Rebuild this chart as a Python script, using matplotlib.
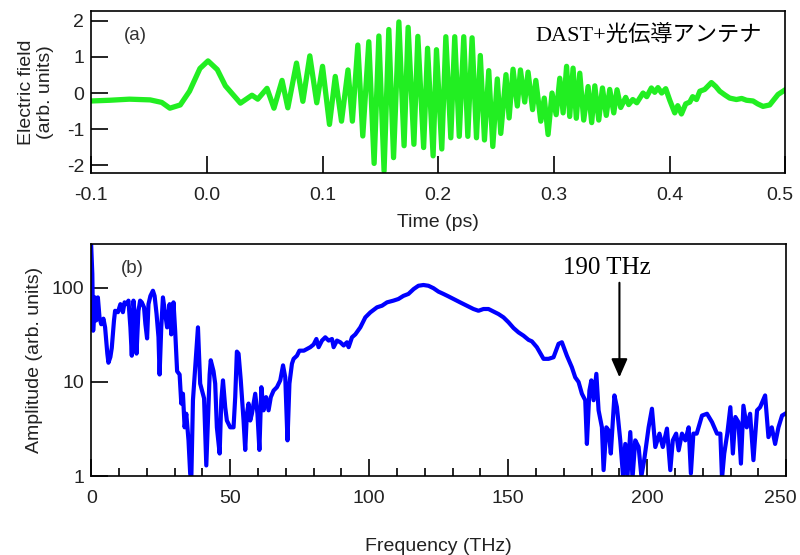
import matplotlib
matplotlib.use("Agg")
import matplotlib.pyplot as plt
import matplotlib.transforms as mtransforms
from matplotlib.ticker import FixedLocator, MultipleLocator, NullLocator

plt.rcParams['font.family'] = ['Liberation Sans', 'DejaVu Sans']
plt.rcParams['axes.unicode_minus'] = False

# (a) time-domain waveform
t_ps = [
    -0.100, -0.084, -0.067, -0.049, -0.039, -0.032, -0.023, -0.015, -0.006, 0.001,
    0.009, 0.016, 0.022, 0.029, 0.039, 0.044, 0.052, 0.058, 0.065, 0.070,
    0.0775, 0.083, 0.089, 0.095, 0.100, 0.106, 0.111, 0.1164, 0.122, 0.1258,
    0.1305, 0.1348, 0.140, 0.1446, 0.1487, 0.1532, 0.1573, 0.1614, 0.166, 0.1705,
    0.174, 0.179, 0.1824, 0.1874, 0.1908, 0.1956, 0.1985, 0.2031, 0.2066, 0.2109,
    0.2143, 0.2182, 0.2221, 0.2256, 0.2293, 0.2331, 0.2364, 0.240, 0.2437, 0.2472,
    0.2511, 0.2541, 0.2586, 0.2613, 0.2647, 0.2684, 0.2711, 0.2748, 0.2777, 0.2816,
    0.2844, 0.2887, 0.2917, 0.295, 0.2984, 0.302, 0.3051, 0.308, 0.311, 0.3137,
    0.3166, 0.3194, 0.3224, 0.3258, 0.3296, 0.3327, 0.3354, 0.3388, 0.342, 0.3453,
    0.3483, 0.3518, 0.3546, 0.3578, 0.3621, 0.3647, 0.3682, 0.3717, 0.3771, 0.3803,
    0.3843, 0.3872, 0.390, 0.3932, 0.3967, 0.4002, 0.4045, 0.4071, 0.4103, 0.414,
    0.4175, 0.420, 0.4233, 0.4262, 0.4304, 0.4362, 0.440, 0.4434, 0.4477, 0.452,
    0.4578, 0.4624, 0.4665, 0.4722, 0.4762, 0.4808, 0.4866, 0.4938, 0.500,
]
e_field = [
    -0.22, -0.20, -0.17, -0.19, -0.26, -0.42, -0.33, 0.05, 0.68, 0.89,
    0.65, 0.20, -0.02, -0.28, -0.06, -0.17, 0.13, -0.42, 0.35, -0.41,
    0.83, -0.23, 1.03, -0.27, 0.74, -0.87, 0.46, -0.78, 0.64, -0.78,
    1.33, -1.19, 1.42, -1.95, 1.58, -2.16, 1.76, -1.79, 1.97, -1.46,
    1.82, -1.42, 1.57, -1.51, 1.24, -1.74, 1.20, -1.55, 1.56, -1.24,
    1.56, -1.20, 1.56, -1.20, 1.53, -1.24, 1.04, -1.30, 0.62, -1.48,
    0.39, -1.12, 0.51, -0.69, 0.66, -0.36, 0.64, -0.25, 0.58, -0.46,
    0.35, -0.78, -0.14, -1.15, 0.00, -0.60, 0.41, -0.55, 0.74, -0.65,
    0.69, -0.70, 0.55, -0.75, 0.18, -0.82, 0.20, -0.75, 0.14, -0.62,
    0.10, -0.55, 0.09, -0.40, -0.12, -0.32, -0.18, -0.27, 0.00, -0.10,
    0.14, 0.02, 0.15, 0.00, 0.12, -0.20, -0.55, -0.35, -0.58, -0.30,
    -0.25, -0.10, -0.18, 0.05, 0.10, 0.29, 0.18, 0.05, -0.05, -0.14,
    -0.18, -0.15, -0.20, -0.22, -0.30, -0.37, -0.33, -0.04, 0.09,
]

# (b) amplitude spectrum
freq_thz = [
    0, 0.4, 0.7, 1.4, 1.8, 2.4, 3.0, 3.6, 4.4, 5.0,
    5.8, 6.2, 6.9, 7.4, 8.2, 8.6, 9.6, 10.5, 11.4, 12.0,
    12.8, 13.4, 14.1, 14.6, 15.2, 15.8, 16.3, 17.0, 17.6, 18.2,
    19.0, 19.5, 20.1, 20.6, 21.3, 22.2, 22.8, 23.5, 24.2, 24.6,
    25.2, 25.8, 26.6, 27.3, 28.2, 28.8, 29.6, 30.2, 30.9, 31.8,
    32.4, 33.0, 33.6, 34.2, 35.0, 35.6, 36.0, 36.6, 37.4, 38.4,
    39.2, 40.6, 41.4, 42.6, 43.0, 44.0, 44.6, 45.2, 46.2, 46.8,
    47.4, 48.2, 48.8, 50.0, 51.2, 51.8, 52.4, 53.0, 53.8, 54.8,
    55.4, 56.0, 56.6, 57.2, 57.8, 59.0, 59.8, 60.5, 61.2, 62.0,
    62.9, 63.8, 64.6, 65.6, 66.8, 68.0, 69.0, 69.8, 70.6, 71.3,
    72.2, 72.8, 74.0, 74.9, 76.5, 78.8, 80.0, 81.0, 81.8, 83.0,
    84.2, 85.4, 86.6, 87.2, 88.4, 89.6, 90.8, 92.0, 92.6, 93.8,
    95.0, 96.8, 98.6, 100.4, 102.8, 104.6, 106.4, 108.7, 110.5, 112.3,
    114.1, 116.0, 117.7, 119.5, 121.3, 123.1, 124.9, 126.7, 128.5, 130.3,
    132.7, 135.1, 137.5, 139.3, 141.1, 142.9, 144.7, 146.5, 148.3, 150.1,
    151.9, 153.7, 155.5, 157.3, 158.5, 160.3, 162.7, 164.5, 166.3, 168.1,
    169.3, 171.1, 172.9, 174.1, 175.3, 176.5, 177.7, 178.3, 179.2, 179.9,
    180.7, 181.7, 182.5, 183.7, 184.3, 185.3, 186.1, 186.9, 188.2, 189.1,
    190.3, 191.3, 192.1, 192.9, 193.9, 194.7, 195.7, 196.9, 197.9, 198.9,
    200.5, 201.7, 202.9, 204.4, 205.6, 207.1, 208.3, 209.2, 210.4, 211.3,
    212.5, 213.7, 214.9, 215.7, 216.6, 217.8, 219.7, 221.5, 223.3, 225.1,
    226.3, 226.9, 227.7, 228.8, 229.9, 230.8, 231.7, 232.8, 233.7, 234.6,
    235.8, 237.0, 238.2, 239.5, 240.6, 242.4, 243.6, 244.8, 246.0, 247.2,
    248.5, 249.6,
]
amplitude = [
    277, 140, 35, 79, 45, 79, 48, 41, 47, 38,
    20, 16, 18.4, 23, 45, 57, 55, 67, 55, 70,
    67, 73, 38, 19, 73, 48, 20, 57, 73, 70,
    62, 41, 29, 67, 82, 93, 82, 53, 30, 12,
    38, 79, 53, 38, 67, 32, 70, 35, 13, 12,
    5.9, 7.5, 3.3, 4.6, 2.4, 1.07, 0.9, 6.4, 14.3, 38,
    9.6, 6.7, 1.3, 12, 17, 13, 9.6, 3.3, 1.74, 6.4,
    10.4, 5.4, 3.9, 3.3, 3.3, 6.9, 21, 20, 10.4, 3.9,
    1.9, 4.6, 5.9, 3.9, 4.6, 7.5, 4.6, 1.9, 8.8, 5.0,
    6.9, 5.0, 6.9, 8.1, 8.8, 10.4, 15, 11.2, 2.4, 9.6,
    15.6, 17.6, 19, 21.5, 21.5, 23.4, 25, 28.6, 23.4, 27.5,
    29.8, 27.5, 28.6, 23.4, 27.5, 26.4, 24.4, 26.4, 23.4, 29.8,
    32, 38, 48.5, 54.8, 62, 64.5, 70, 73, 76, 82,
    86, 97, 105, 107, 105, 99, 91, 86, 81, 76,
    70, 64.5, 59.5, 57, 59.5, 59.5, 56, 52.6, 48.5, 43,
    37.4, 33.6, 31, 28, 27, 23.4, 17.6, 17.6, 18.3, 25.4,
    26.4, 19, 14.3, 11.2, 10, 7.5, 6.4, 2.2, 8.1, 10.4,
    6.4, 12.2, 5, 3.3, 1.16, 3.3, 3.06, 1.74, 7.2, 5.4,
    2.4, 1.0, 2.2, 1.0, 2.94, 0.95, 2.4, 2.04, 1.0, 1.48,
    3.3, 5.2, 2.04, 2.83, 2.04, 3.2, 1.16, 2.4, 2.83, 1.88,
    2.83, 2.4, 3.3, 1.07, 2.83, 2.83, 4.4, 4.6, 3.75, 2.83,
    2.83, 0.95, 1.74, 2.83, 5.4, 1.74, 4.25, 3.75, 1.36, 5.6,
    3.3, 4.6, 1.48, 5.0, 5.4, 7.2, 2.6, 3.3, 2.2, 3.3,
    4.4, 4.6,
]

time_ticks = [-0.1, 0.0, 0.1, 0.2, 0.3, 0.4, 0.5]
time_labels = ["-0.1", "0.0", "0.1", "0.2", "0.3", "0.4", "0.5"]
field_ticks = [-2, -1, 0, 1, 2]
freq_ticks = [0, 50, 100, 150, 200, 250]
amp_ticks = [1, 10, 100]
amp_labels = ["1", "10", "100"]
peak_label = "190 THz"
peak_freq = 190

fig = plt.figure(figsize=(8, 5.55), dpi=100)
ax1 = fig.add_axes([0.114, 0.688, 0.8675, 0.292])
ax2 = fig.add_axes([0.114, 0.142, 0.8688, 0.418])

tick_col = "#222222"
fs = 14

ax1.plot(t_ps, e_field, color="#22ee22", lw=3.8, solid_joinstyle="round")
ax1.set_xlim(-0.1, 0.5)
ax1.set_ylim(-2.22, 2.27)
ax1.xaxis.set_major_locator(FixedLocator(time_ticks))
ax1.set_xticklabels(time_labels)
ax1.yaxis.set_major_locator(FixedLocator(field_ticks))
ax1.tick_params(direction="in", length=12, width=1.2, labelsize=fs,
                labelcolor=tick_col, top=False, right=False)
ax1.tick_params(axis="x", pad=10)
ax1.tick_params(axis="y", pad=5)
ax1.set_xlabel("Time (ps)", fontsize=fs, color=tick_col)
ax1.xaxis.set_label_coords(0.5, -0.255)
ax1.set_ylabel("Electric field\n(arb. units)", fontsize=fs, color=tick_col,
               linespacing=1.15)
ax1.yaxis.set_label_coords(-0.053, 0.5)
ax1.text(0.063, 0.852, "(a)", transform=ax1.transAxes, fontsize=13.5,
         color="#333333", ha="center", va="center")
ax1.text(0.803, 0.852, "DAST+光伝導アンテナ", transform=ax1.transAxes,
         fontsize=16, ha="center", va="center",
         family=["Liberation Serif", "Noto Sans CJK JP"])

ax2.plot(freq_thz, amplitude, color="#0000ff", lw=3.0, solid_joinstyle="round")
ax2.set_yscale("log")
ax2.set_xlim(0, 250)
ax2.set_ylim(1, 290)
ax2.xaxis.set_major_locator(FixedLocator(freq_ticks))
ax2.xaxis.set_minor_locator(MultipleLocator(10))
ax2.yaxis.set_major_locator(FixedLocator(amp_ticks))
ax2.yaxis.set_minor_locator(NullLocator())
ax2.set_yticklabels(amp_labels)
ax2.tick_params(which="major", direction="in", length=12, width=1.2,
                labelsize=fs, labelcolor=tick_col, top=False, right=False)
ax2.tick_params(which="minor", direction="in", length=6, width=1.2,
                top=False, right=False)
ax2.tick_params(axis="x", pad=10)
ax2.tick_params(axis="y", pad=5)
ax2.set_xlabel("Frequency (THz)", fontsize=fs, color=tick_col)
ax2.xaxis.set_label_coords(0.5, -0.268)
ax2.set_ylabel("Amplitude (arb. units)", fontsize=fs, color=tick_col)
ax2.yaxis.set_label_coords(-0.069, 0.5)
ax2.text(0.059, 0.897, "(b)", transform=ax2.transAxes, fontsize=13.5,
         color="#333333", ha="center", va="center")

# arrow marking the upper edge of the spectrum
ax2.annotate("", xy=(peak_freq, 11.2), xytext=(peak_freq, 113),
             arrowprops=dict(arrowstyle="-|>,head_length=0.8,head_width=0.35",
                             color="black", lw=1.5, mutation_scale=14,
                             shrinkA=0, shrinkB=0))
ax2.text(peak_freq - 4.4, 163, peak_label, fontsize=18, ha="center",
         va="center", family="Liberation Serif")

fig.canvas.draw()
# keep the rightmost tick labels inside the figure
nudge = mtransforms.ScaledTranslation(-4 / 72, 0, fig.dpi_scale_trans)
for ax in (ax1, ax2):
    last = ax.get_xticklabels()[-1]
    last.set_transform(last.get_transform() + nudge)
    for sp in ax.spines.values():
        sp.set_linewidth(1.2)

fig.savefig("out.png", dpi=100)
